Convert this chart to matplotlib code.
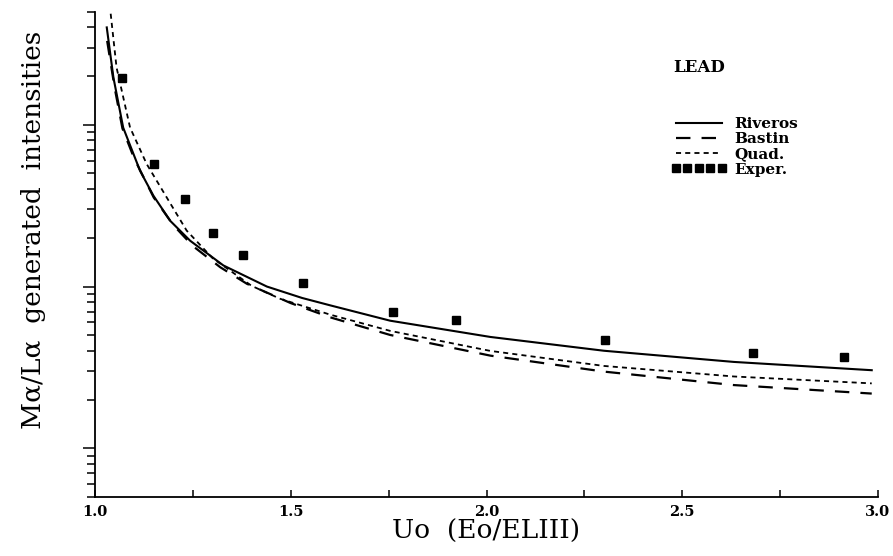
import matplotlib
matplotlib.use("Agg")
import matplotlib.pyplot as plt
from matplotlib.legend_handler import HandlerLine2D
from matplotlib.ticker import MultipleLocator, LogLocator, NullFormatter

# values (y axis is log, unlabelled)
riv_x = [1.030, 1.047, 1.072, 1.115, 1.149, 1.192, 1.243, 1.328, 1.439, 1.529,
         1.601, 1.754, 2.010, 2.300, 2.632, 2.984]
riv_y = [4.0, 1.96, 0.96, 0.52, 0.365, 0.255, 0.192, 0.135, 0.100, 0.085,
         0.0765, 0.0615, 0.0488, 0.0401, 0.0342, 0.0304]

bas_x = [1.031, 1.050, 1.070, 1.100, 1.150, 1.200, 1.250, 1.320, 1.388, 1.500,
         1.601, 1.754, 2.010, 2.300, 2.632, 2.984]
bas_y = [3.3, 1.7, 0.95, 0.62, 0.355, 0.24, 0.178, 0.1316, 0.104, 0.079,
         0.0645, 0.0502, 0.0374, 0.0298, 0.0246, 0.0218]

quad_x = [1.040, 1.055, 1.0895, 1.132, 1.183, 1.234, 1.300, 1.400, 1.473,
          1.601, 1.754, 2.010, 2.300, 2.632, 2.984]
quad_y = [4.86, 2.26, 0.962, 0.572, 0.356, 0.222, 0.150, 0.101, 0.084,
          0.067, 0.0532, 0.0400, 0.0323, 0.0278, 0.0252]

exp_x = [1.070, 1.151, 1.231, 1.301, 1.379, 1.530, 1.761, 1.921, 2.302, 2.681, 2.912]
exp_y = [1.94, 0.572, 0.348, 0.2145, 0.1576, 0.1059, 0.0701, 0.0619, 0.0469, 0.0391, 0.0365]

serif = "DejaVu Serif"

fig = plt.figure(figsize=(8.93, 5.56), dpi=100)
ax = fig.add_axes([0.1064, 0.1061, 0.8768, 0.8728])

ax.plot(riv_x, riv_y, color="black", lw=1.5, label="Riveros")
ax.plot(bas_x, bas_y, color="black", lw=1.6, dashes=(6.5, 5.0), label="Bastin")
ax.plot(quad_x, quad_y, color="black", lw=1.3, dashes=(2.8, 2.3), label="Quad.")
ax.plot(exp_x, exp_y, ls="none", marker="s", ms=6, color="black", label="Exper.")

ax.set_yscale("log")
ax.set_xlim(1.0, 3.0)
ax.set_ylim(0.005, 5)

for s in ["top", "right"]:
    ax.spines[s].set_visible(False)
for s in ["left", "bottom"]:
    ax.spines[s].set_linewidth(1.3)

ax.xaxis.set_major_locator(MultipleLocator(0.5))
ax.xaxis.set_minor_locator(MultipleLocator(0.25))
ax.tick_params(axis="x", which="both", direction="in", length=5, width=1.1,
               pad=6)
ax.yaxis.set_major_locator(LogLocator(base=10))
ax.yaxis.set_minor_locator(LogLocator(base=10, subs=range(2, 10)))
ax.yaxis.set_major_formatter(NullFormatter())
ax.yaxis.set_minor_formatter(NullFormatter())
ax.tick_params(axis="y", which="major", direction="out", length=8.5, width=1.1)
ax.tick_params(axis="y", which="minor", direction="out", length=5.5, width=1.1)

for lab in ax.get_xticklabels():
    lab.set_fontfamily(serif)
    lab.set_fontweight("bold")
    lab.set_fontsize(10.5)

ax.set_xlabel("Uo  (Eo/ELIII)", fontfamily=serif, fontsize=19, labelpad=0)
ax.set_ylabel("Mα/Lα  generated  intensities", fontfamily=serif, fontsize=19)
ax.yaxis.set_label_coords(-0.063, 0.55)

ax.text(0.738, 0.885, "LEAD", transform=ax.transAxes, fontfamily=serif,
        fontweight="bold", fontsize=12, va="center", ha="left")

handles, labels = ax.get_legend_handles_labels()
leg = ax.legend(handles, labels, loc="upper left", bbox_to_anchor=(0.742, 0.783),
                frameon=False, borderpad=0, borderaxespad=0, handlelength=3.0,
                handletextpad=0.8, labelspacing=0.08,
                prop={"family": serif, "weight": "bold", "size": 11},
                handler_map={handles[3]: HandlerLine2D(numpoints=5, marker_pad=0)})
for h in leg.legend_handles:
    if h.get_marker() == "s":
        h.set_markersize(6.3)

fig.savefig("out.png", dpi=100)
